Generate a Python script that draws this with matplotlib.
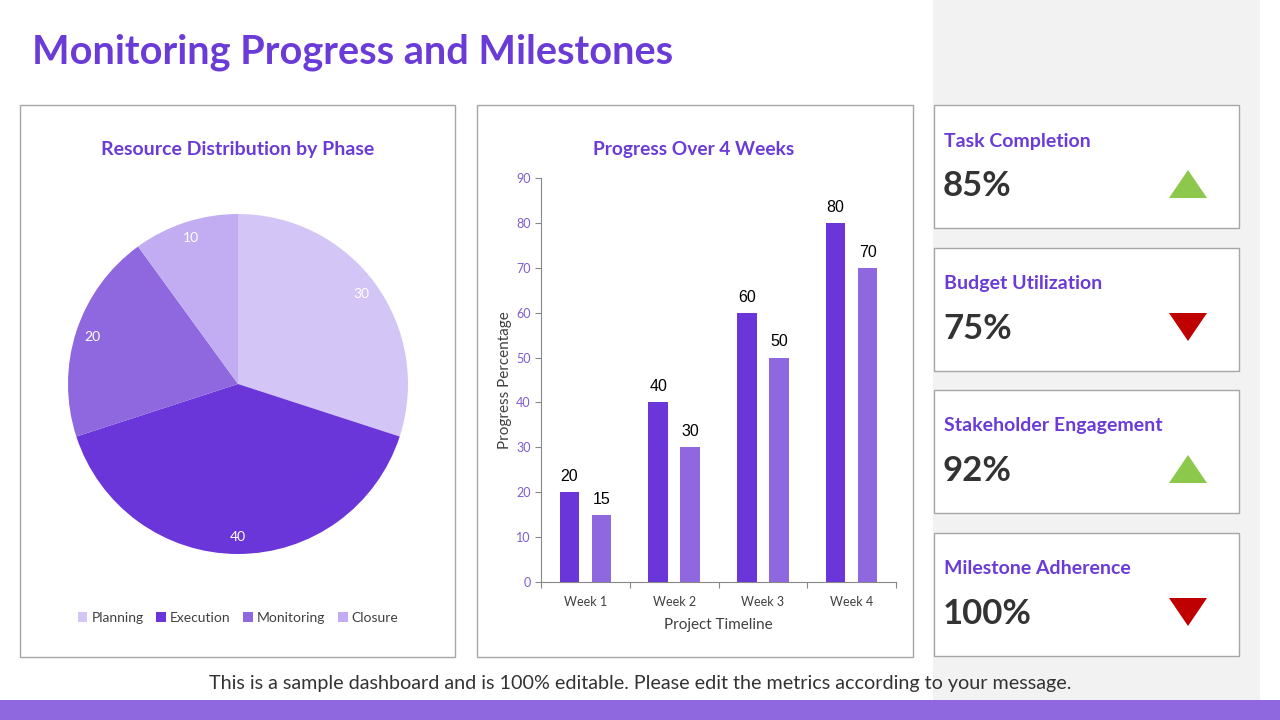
import matplotlib.pyplot as plt
from matplotlib.patches import Rectangle, Polygon

W, H = 1280, 720

# data
phases = ['Planning', 'Execution', 'Monitoring', 'Closure']
phase_values = [30, 40, 20, 10]
phase_colors = ['#d3c5f5', '#6a35d9', '#8f68e0', '#c2adf2']

weeks = ['Week 1', 'Week 2', 'Week 3', 'Week 4']
planned = [20, 40, 60, 80]
actual = [15, 30, 50, 70]

kpi_names = ['Task Completion', 'Budget Utilization', 'Stakeholder Engagement', 'Milestone Adherence']
kpi_values = ['85%', '75%', '92%', '100%']
kpi_up = [True, False, True, False]

PURPLE = '#6a3bd6'
DARK = '#333333'
FONT = 'Lato'


def px(x0, y0, x1, y1):
    # pixel box -> figure fraction
    return [x0 / W, 1 - y1 / H, (x1 - x0) / W, (y1 - y0) / H]


fig = plt.figure(figsize=(12.8, 7.2), dpi=100)
fig.patch.set_facecolor('white')

# canvas axes in pixel coords for boxes, text and icons
bg = fig.add_axes([0, 0, 1, 1])
bg.set_xlim(0, W)
bg.set_ylim(H, 0)
bg.axis('off')

bg.add_patch(Rectangle((933, 0), 327, 700, facecolor='#f2f2f2', edgecolor='none'))
bg.add_patch(Rectangle((0, 700), W, 20, facecolor='#8f68e0', edgecolor='none'))

bg.text(32, 52, 'Monitoring Progress and Milestones', fontsize=28.5, fontweight='bold',
        color=PURPLE, family=FONT, va='center', ha='left')

for x0, x1 in [(20, 455), (477, 913)]:
    bg.add_patch(Rectangle((x0, 105), x1 - x0, 552, facecolor='white', edgecolor='#a6a6a6', lw=1))

card_tops = [105, 248, 390, 533]
for top, name, val, up in zip(card_tops, kpi_names, kpi_values, kpi_up):
    bg.add_patch(Rectangle((934, top), 305, 123, facecolor='white', edgecolor='#a6a6a6', lw=1))
    bg.text(944, top + 36, name, fontsize=14, fontweight='bold', color=PURPLE,
            family=FONT, va='center', ha='left')
    bg.text(943, top + 81, val, fontsize=25, fontweight='bold', color=DARK,
            family=FONT, va='center', ha='left')
    cx, cy = 1188, top + 79
    if up:
        tri = Polygon([(cx - 19, cy + 14), (cx + 19, cy + 14), (cx, cy - 14)],
                      closed=True, facecolor='#8cc84b', edgecolor='none')
    else:
        tri = Polygon([(cx - 19, cy - 14), (cx + 19, cy - 14), (cx, cy + 14)],
                      closed=True, facecolor='#c00000', edgecolor='none')
    bg.add_patch(tri)

bg.text(640, 684, 'This is a sample dashboard and is 100% editable. Please edit the metrics according to your message.',
        fontsize=14.2, color=DARK, family=FONT, va='center', ha='center')

# pie chart
bg.text(238, 150, 'Resource Distribution by Phase', fontsize=14, fontweight='bold',
        color=PURPLE, family=FONT, va='center', ha='center')
ax1 = fig.add_axes(px(68, 214, 408, 554))
wedges, texts = ax1.pie(phase_values, colors=phase_colors, startangle=90, counterclock=False,
                        labels=[str(v) for v in phase_values], labeldistance=0.9,
                        textprops=dict(color='white', fontsize=10, family=FONT))
for t in texts:
    t.set_ha('center')
    t.set_va('center')
ax1.set_xlim(-1, 1)
ax1.set_ylim(-1, 1)
ax1.set_aspect('equal')
ax1.legend(wedges, phases, loc='center', bbox_to_anchor=(0.5, (554 - 618) / 340),
           ncol=4, frameon=False, handlelength=0.7, handleheight=0.7, handletextpad=0.3,
           columnspacing=0.9, prop=dict(family=FONT, size=10), labelcolor='#404040')

# bar chart
bg.text(694, 150, 'Progress Over 4 Weeks', fontsize=13.8, fontweight='bold',
        color=PURPLE, family=FONT, va='center', ha='center')
ax2 = fig.add_axes(px(541, 178, 896, 582))
xs = list(range(len(weeks)))
b1 = ax2.bar([x - 0.18 for x in xs], planned, width=0.22, color='#6a35d9')
b2 = ax2.bar([x + 0.18 for x in xs], actual, width=0.22, color='#8f68e0')
for bars in (b1, b2):
    for b in bars:
        ax2.text(b.get_x() + b.get_width() / 2, b.get_height() + 1.8, str(int(b.get_height())),
                 ha='center', va='bottom', fontsize=11.5, color='black', family='Liberation Sans')
ax2.set_xlim(-0.5, 3.5)
ax2.set_ylim(0, 90)
ax2.set_yticks(range(0, 91, 10))
ax2.set_xticks([-0.5, 0.5, 1.5, 2.5, 3.5], minor=False)
ax2.set_xticklabels([])
ax2.set_xticks(xs, minor=True)
ax2.set_xticklabels(weeks, minor=True)
ax2.tick_params(axis='x', which='minor', length=0, pad=10, labelsize=9, labelcolor='#404040')
ax2.tick_params(axis='x', which='major', length=4, color='#888888')
ax2.tick_params(axis='y', length=4, color='#888888', labelsize=9, labelcolor='#7e5cd0')
for lab in ax2.get_xticklabels(minor=True) + ax2.get_yticklabels():
    lab.set_family(FONT)
ax2.spines['top'].set_visible(False)
ax2.spines['right'].set_visible(False)
ax2.spines['left'].set_color('#888888')
ax2.spines['bottom'].set_color('#888888')
ax2.set_ylabel('Progress Percentage', fontsize=11, color='#404040', family=FONT, labelpad=3)
ax2.set_xlabel('Project Timeline', fontsize=11, color='#404040', family=FONT, labelpad=7)

fig.savefig('out.png', dpi=100)
